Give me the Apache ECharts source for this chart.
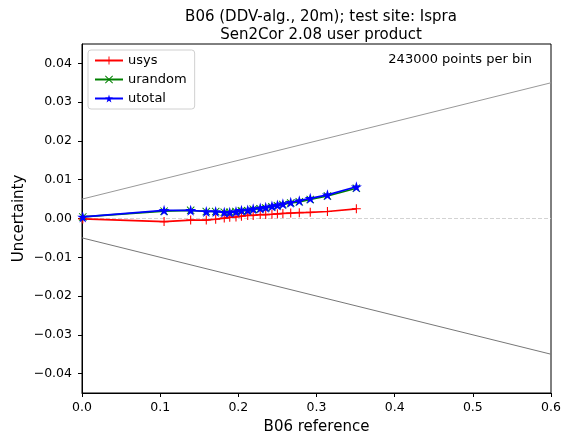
<!DOCTYPE html>
<html lang="en">
<head>
    <meta charset="UTF-8">
    <title>B06 uncertainty</title>
    <style>
        html, body { margin: 0; padding: 0; background: #fff; }
        #container { width: 564px; height: 441px; }
    </style>
</head>
<body>
<div id="container"></div>
<script type="text/javascript" src="https://cdn.jsdelivr.net/npm/echarts@6.0.0/dist/echarts.min.js"></script>
<script type="text/javascript">
    // binned reference reflectance (x) and uncertainties
    var refBins = [0.001, 0.105, 0.139, 0.159, 0.171, 0.182, 0.189, 0.197, 0.204, 0.212, 0.219,
        0.228, 0.235, 0.243, 0.250, 0.257, 0.267, 0.278, 0.292, 0.314, 0.351];
    var usys = [-0.0001, -0.0008, -0.0004, -0.0004, -0.0002, 0.0001, 0.0003, 0.0004, 0.0006, 0.0008, 0.0008,
        0.0010, 0.0010, 0.0011, 0.0012, 0.0013, 0.0014, 0.0015, 0.0016, 0.0018, 0.0025];
    var urandom = [0.0004, 0.0019, 0.0021, 0.0018, 0.0018, 0.0016, 0.0016, 0.0018, 0.0020, 0.0020, 0.0024,
        0.0025, 0.0027, 0.0030, 0.0033, 0.0036, 0.0040, 0.0043, 0.0049, 0.0058, 0.0078];
    var utotal = [0.0004, 0.0021, 0.0021, 0.0018, 0.0018, 0.0016, 0.0016, 0.0018, 0.0021, 0.0022, 0.0025,
        0.0027, 0.0029, 0.0032, 0.0035, 0.0038, 0.0042, 0.0046, 0.0052, 0.0061, 0.0082];

    // requirement envelope and zero reference
    var envX = [0, 0.6];
    var upperEnv = [0.005, 0.035];
    var lowerEnv = [-0.005, -0.035];
    var zeroLine = [0, 0];

    var xTicks = [0, 0.1, 0.2, 0.3, 0.4, 0.5, 0.6];
    var yTicks = [-0.04, -0.03, -0.02, -0.01, 0, 0.01, 0.02, 0.03, 0.04];

    var pairs = function (xs, ys) {
        return xs.map(function (x, i) { return [x, ys[i]]; });
    };

    var font = 'DejaVu Sans';
    var plusPath = 'path://M4.4,0H5.6V4.4H10V5.6H5.6V10H4.4V5.6H0V4.4H4.4Z';
    var crossPath = 'path://M0.8,0L5,4.2L9.2,0L10,0.8L5.8,5L10,9.2L9.2,10L5,5.8L0.8,10L0,9.2L4.2,5L0,0.8Z';
    var starPath = 'path://M50,0L61,35H98L68,57L79,91L50,70L21,91L32,57L2,35H39Z';

    var dom = document.getElementById("container");
    var myChart = echarts.init(dom);

    var option = {
        animation: false,
        title: {
            text: 'B06 (DDV-alg., 20m); test site: Ispra\nSen2Cor 2.08 user product',
            left: 316,
            top: 3,
            textAlign: 'center',
            textStyle: {
                fontFamily: font,
                fontSize: 15,
                fontWeight: 'normal',
                color: '#000',
                lineHeight: 18
            }
        },
        legend: {
            data: ['usys', 'urandom', 'utotal'],
            orient: 'vertical',
            left: 88,
            top: 50,
            padding: [4, 8, 4, 6],
            itemGap: 6,
            itemWidth: 28,
            itemHeight: 10,
            backgroundColor: 'rgba(255,255,255,0.8)',
            borderColor: '#d0d0d0',
            borderWidth: 1,
            borderRadius: 3,
            textStyle: {fontFamily: font, fontSize: 13, color: '#000'}
        },
        graphic: [{
            type: 'text',
            right: 32,
            top: 53,
            style: {
                text: '243000 points per bin',
                font: '13px "DejaVu Sans"',
                fill: '#000'
            }
        }],
        grid: {
            left: 82,
            right: 13,
            top: 44,
            bottom: 48,
            show: true,
            borderColor: '#000',
            borderWidth: 1,
            backgroundColor: '#fff'
        },
        xAxis: {
            type: 'value',
            min: 0,
            max: 0.6,
            interval: 0.1,
            name: 'B06 reference',
            nameLocation: 'middle',
            nameGap: 27,
            nameMoveOverlap: false,
            nameTextStyle: {fontFamily: font, fontSize: 15, color: '#000'},
            axisLine: {show: true, onZero: false, lineStyle: {color: '#000', width: 1}},
            axisTick: {show: true, length: 4, inside: false, lineStyle: {color: '#000'}},
            axisLabel: {
                fontFamily: font, fontSize: 12.5, color: '#000', margin: 8,
                formatter: function (v) { return v.toFixed(1); }
            },
            splitLine: {show: false}
        },
        yAxis: {
            type: 'value',
            min: -0.045,
            max: 0.045,
            name: 'Uncertainty',
            nameLocation: 'middle',
            nameGap: 55,
            nameMoveOverlap: false,
            nameRotate: 90,
            nameTextStyle: {fontFamily: font, fontSize: 15, color: '#000'},
            axisLine: {show: true, onZero: false, lineStyle: {color: '#000', width: 1}},
            axisTick: {show: true, length: 4, inside: false, customValues: yTicks, lineStyle: {color: '#000'}},
            axisLabel: {
                fontFamily: font, fontSize: 12.5, color: '#000', margin: 10,
                customValues: yTicks,
                formatter: function (v) { return v.toFixed(2).replace('-', '\u2212'); }
            },
            splitLine: {show: false}
        },
        series: [
            {
                name: 'upper',
                type: 'line',
                data: pairs(envX, upperEnv),
                showSymbol: false,
                silent: true,
                lineStyle: {color: '#999999', width: 1},
                z: 1
            },
            {
                name: 'lower',
                type: 'line',
                data: pairs(envX, lowerEnv),
                showSymbol: false,
                silent: true,
                lineStyle: {color: '#777777', width: 1},
                z: 1
            },
            {
                name: 'zero',
                type: 'line',
                data: pairs(envX, zeroLine),
                showSymbol: false,
                silent: true,
                lineStyle: {color: '#c8c8c8', width: 0.8, type: [4, 2]},
                z: 1
            },
            {
                name: 'usys',
                type: 'line',
                data: pairs(refBins, usys),
                symbol: plusPath,
                symbolSize: 9,
                color: '#ff0000',
                lineStyle: {width: 1.7},
                z: 3
            },
            {
                name: 'urandom',
                type: 'line',
                data: pairs(refBins, urandom),
                symbol: crossPath,
                symbolSize: 8,
                color: '#008000',
                lineStyle: {width: 1.7},
                z: 4
            },
            {
                name: 'utotal',
                type: 'line',
                data: pairs(refBins, utotal),
                symbol: starPath,
                symbolSize: 11,
                color: '#0000ff',
                lineStyle: {width: 1.7},
                z: 5
            }
        ]
    };

    myChart.setOption(option, true);
</script>
</body>
</html>
